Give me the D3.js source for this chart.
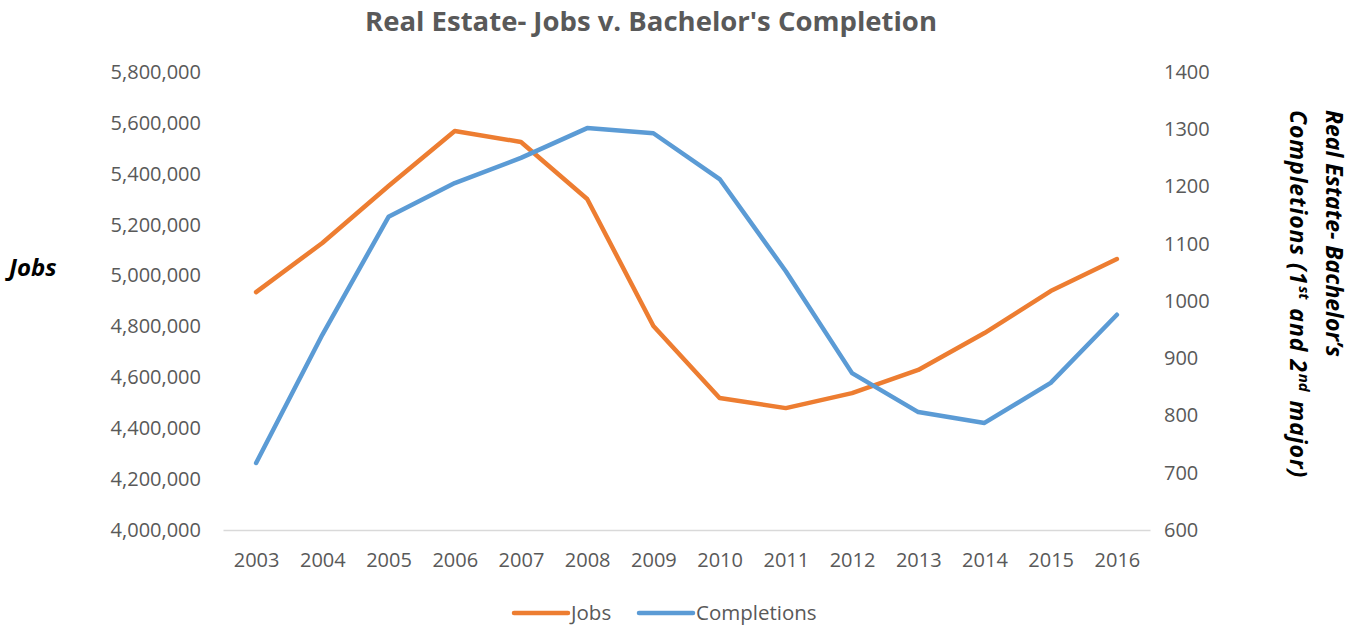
<!DOCTYPE html>
<html>
<head>
<meta charset="utf-8">
<script src="https://cdn.jsdelivr.net/npm/d3@7"></script>
<style>
  body { margin: 0; background: #fff; }
  svg text { font-family: "Open Sans", "Noto Sans", sans-serif; }
</style>
</head>
<body>
<div id="chart"></div>
<script>
const years = ['2003','2004','2005','2006','2007','2008','2009','2010','2011','2012','2013','2014','2015','2016'];
const jobs = [4935000, 5128000, 5352000, 5568000, 5525000, 5301000, 4802000, 4519000, 4479000, 4538000, 4629000, 4774000, 4939000, 5065000];
const completions = [717, 941, 1147, 1206, 1250, 1302, 1293, 1213, 1052, 874, 806, 787, 857, 976];
const jobsTicks = [4000000, 4200000, 4400000, 4600000, 4800000, 5000000, 5200000, 5400000, 5600000, 5800000];
const complTicks = [600, 700, 800, 900, 1000, 1100, 1200, 1300, 1400];

const W = 1364, H = 628;
const margin = {top: 72, right: 214, bottom: 98, left: 223};
const width = W - margin.left - margin.right,
      height = H - margin.top - margin.bottom;

const grey = '#595959';
const orange = '#ED7D31', blue = '#5B9BD5';

const svg = d3.select('#chart').append('svg')
    .attr('width', W)
    .attr('height', H);

const g = svg.append('g')
    .attr('transform', 'translate(' + margin.left + ',' + margin.top + ')');

const x = d3.scalePoint().domain(years).range([0, width]).padding(0.5);
const yL = d3.scaleLinear().domain([4000000, 5800000]).range([height, 0]);
const yR = d3.scaleLinear().domain([600, 1400]).range([height, 0]);

// title
svg.append('text')
    .attr('x', 651).attr('y', 31)
    .attr('text-anchor', 'middle')
    .attr('font-size', 27.5).attr('font-weight', 'bold')
    .attr('fill', grey)
    .text("Real Estate- Jobs v. Bachelor's Completion");

// x axis
const xAxis = g.append('g')
    .attr('transform', 'translate(0,' + height + ')')
    .call(d3.axisBottom(x).tickSize(0).tickPadding(23));
xAxis.select('.domain').attr('stroke', '#d9d9d9').attr('stroke-width', 1.5);
xAxis.selectAll('text').attr('font-size', 20).attr('fill', grey);

// left axis
const leftAxis = g.append('g')
    .call(d3.axisLeft(yL).tickValues(jobsTicks).tickSize(0).tickPadding(22).tickFormat(d3.format(',')));
leftAxis.select('.domain').remove();
leftAxis.selectAll('text').attr('font-size', 20).attr('fill', grey);

// right axis
const rightAxis = g.append('g')
    .attr('transform', 'translate(' + width + ',0)')
    .call(d3.axisRight(yR).tickValues(complTicks).tickSize(0).tickPadding(14).tickFormat(d3.format('d')));
rightAxis.select('.domain').remove();
rightAxis.selectAll('text').attr('font-size', 20).attr('fill', grey);

// axis titles
svg.append('text')
    .attr('x', 9).attr('y', 276)
    .attr('font-size', 24).attr('font-weight', 'bold').attr('font-style', 'italic')
    .attr('fill', '#000')
    .text('Jobs');

const rt = svg.append('text')
    .attr('transform', 'translate(1326,110) rotate(90)')
    .attr('text-anchor', 'start')
    .attr('font-size', 23).attr('font-weight', 'bold').attr('font-style', 'italic')
    .attr('fill', '#000');
rt.append('tspan').attr('x', 0).attr('dy', 0).text("Real Estate- Bachelor\u2019s");
const l2 = rt.append('tspan').attr('x', 0).attr('dy', 36);
l2.append('tspan').attr('letter-spacing', 0.9).text('Completions (1');
l2.append('tspan').attr('font-size', 15).attr('dx', 1).attr('dy', -9).text('st');
l2.append('tspan').attr('dx', 2).attr('dy', 9).attr('letter-spacing', 0.9).text(' and 2');
l2.append('tspan').attr('font-size', 15).attr('dx', 1).attr('dy', -9).text('nd');
l2.append('tspan').attr('dx', 2).attr('dy', 9).attr('letter-spacing', 0.9).text(' major)');

// lines
const jobsLine = d3.line()
    .x((d, i) => x(years[i]))
    .y(d => yL(d));
const complLine = d3.line()
    .x((d, i) => x(years[i]))
    .y(d => yR(d));

g.append('path')
    .datum(jobs)
    .attr('d', jobsLine)
    .attr('fill', 'none')
    .attr('stroke', orange)
    .attr('stroke-width', 4.5)
    .attr('stroke-linejoin', 'round')
    .attr('stroke-linecap', 'round');

g.append('path')
    .datum(completions)
    .attr('d', complLine)
    .attr('fill', 'none')
    .attr('stroke', blue)
    .attr('stroke-width', 4.5)
    .attr('stroke-linejoin', 'round')
    .attr('stroke-linecap', 'round');

// legend
const legendItems = [
  {name: 'Jobs', color: orange, x: 514},
  {name: 'Completions', color: blue, x: 639}
];
const legend = svg.selectAll('.legend')
    .data(legendItems)
    .enter()
    .append('g')
    .attr('class', 'legend')
    .attr('transform', d => 'translate(' + d.x + ',613)');
legend.append('line')
    .attr('x1', 0).attr('x2', 54)
    .attr('stroke', d => d.color)
    .attr('stroke-width', 4.5)
    .attr('stroke-linecap', 'round');
legend.append('text')
    .attr('x', 57).attr('y', 7)
    .attr('font-size', 20.5).attr('fill', grey)
    .text(d => d.name);
</script>
</body>
</html>
